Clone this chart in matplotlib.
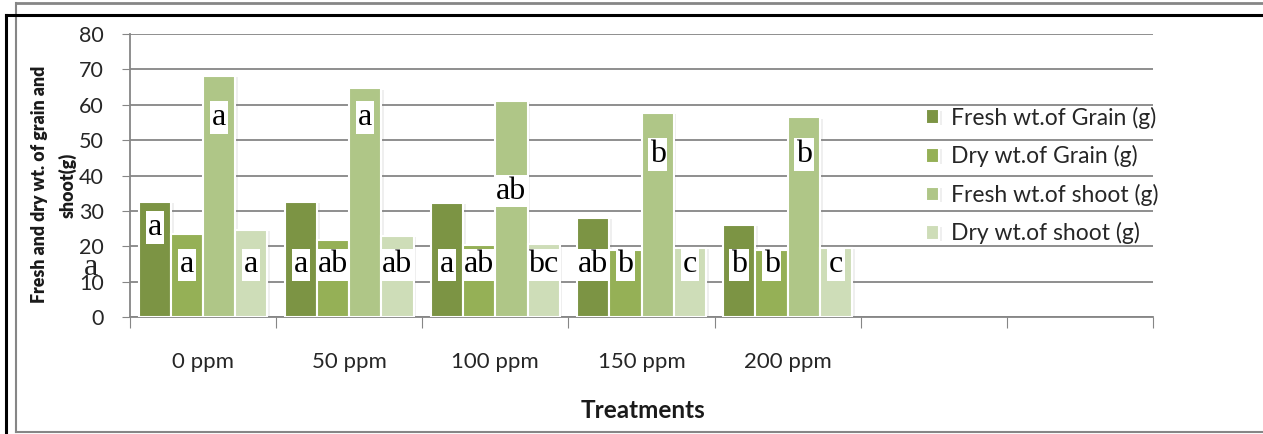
import numpy as np
import matplotlib
matplotlib.use("Agg")
import matplotlib.pyplot as plt
from matplotlib.lines import Line2D
import matplotlib.patheffects as pe

treatments = ["0 ppm", "50 ppm", "100 ppm", "150 ppm", "200 ppm", "", ""]
series = ["Fresh wt.of Grain (g)", "Dry wt.of Grain (g)",
          "Fresh wt.of shoot (g)", "Dry wt.of shoot (g)"]

fresh_grain = [32.5, 32.5, 32.2, 28.0, 26.0]
dry_grain = [23.5, 21.8, 20.3, 18.9, 18.9]
fresh_shoot = [68.1, 64.6, 61.1, 57.7, 56.5]
dry_shoot = [24.6, 22.9, 20.6, 19.6, 19.6]

# significance letters and the height where each one sits
letters_fg = ["a", "a", "a", "ab", "b"]
letters_dg = ["a", "ab", "ab", "b", "b"]
letters_fs = ["a", "a", "ab", "b", "b"]
letters_ds = ["a", "ab", "bc", "c", "c"]
pos_fg = [25.4, 14.7, 14.7, 14.7, 14.7]
pos_dg = [14.7, 14.7, 14.7, 14.7, 14.7]
pos_fs = [56.5, 56.5, 35.6, 45.9, 45.9]
pos_ds = [14.7, 14.7, 14.7, 14.7, 14.7]

colors = ["#7C9444", "#95B056", "#AFC687", "#CEDDB8"]

plt.rcParams["font.family"] = ["Lato", "DejaVu Sans"]

fig = plt.figure(figsize=(12.63, 4.34), dpi=100)
ax = fig.add_axes([130 / 1263, 1 - 317 / 434, 1023 / 1263, 283 / 434])

x = np.arange(len(fresh_grain))
width = 0.22
offsets = [-0.33, -0.11, 0.11, 0.33]
data = [fresh_grain, dry_grain, fresh_shoot, dry_shoot]
letters = [letters_fg, letters_dg, letters_fs, letters_ds]
positions = [pos_fg, pos_dg, pos_fs, pos_ds]

handles = []
for vals, off, col, name in zip(data, offsets, colors, series):
    b = ax.bar(x + off, vals, width, color=col, edgecolor="white", linewidth=1.5,
               label=name, zorder=3)
    for p in b.patches:
        p.set_path_effects([pe.SimplePatchShadow(offset=(2, -1), alpha=0.12,
                                                 shadow_rgbFace="#808080"),
                            pe.Normal()])
    handles.append(b)

for lets, ys, off in zip(letters, positions, offsets):
    for xi, (t, y) in enumerate(zip(lets, ys)):
        ax.text(xi + off, y, t, ha="center", va="center", fontsize=23,
                family="Liberation Serif", color="black", zorder=5,
                bbox=dict(boxstyle="square,pad=0.06", fc="white", ec="none"))

# stray label sitting over the y tick labels
ax.text(-0.77, 14.1, "a", ha="center", va="center", fontsize=23,
        family="Liberation Serif", color="#222222", clip_on=False, zorder=5)

ax.set_xlim(-0.5, len(treatments) - 0.5)
ax.set_ylim(0, 80)
ax.set_yticks(range(0, 81, 10))
ax.yaxis.grid(True, color="#868686", linewidth=1.3, zorder=0)
ax.set_axisbelow(True)

ax.set_xticks(np.arange(len(treatments) + 1) - 0.5)
ax.set_xticklabels([])
ax.set_xticks(np.arange(len(treatments)), minor=True)
ax.set_xticklabels(treatments, minor=True, fontsize=16, color="#262626")
ax.tick_params(axis="x", which="major", length=8, color="#868686", direction="out")
ax.tick_params(axis="x", which="minor", length=0, pad=25)
ax.tick_params(axis="y", length=6, color="#868686", labelsize=15.5,
               labelcolor="#262626", pad=13)

for s in ["top", "right"]:
    ax.spines[s].set_visible(False)
for s in ["left", "bottom"]:
    ax.spines[s].set_color("#868686")
    ax.spines[s].set_linewidth(1.3)

fig.text(643 / 1263, 1 - 411 / 434, "Treatments", ha="center", va="center",
         fontsize=17.5, fontweight="bold", color="#1a1a1a")
fig.text(40 / 1263, 1 - 184 / 434, "Fresh and dry wt. of grain and", rotation=90,
         ha="center", va="center", fontsize=12.8, fontweight="heavy", color="#1a1a1a")
fig.text(68 / 1263, 1 - 185 / 434, "shoot(g)", rotation=90,
         ha="center", va="center", fontsize=12.8, fontweight="heavy", color="#1a1a1a")

fig.legend(handles=handles, loc="upper left",
           bbox_to_anchor=(905 / 1263, 1 - 86 / 434), frameon=False,
           fontsize=16.5, handlelength=0.6, handleheight=0.6, handletextpad=0.5,
           labelspacing=0.72, labelcolor="#262626")

# chart frame lines
W, H = 1263, 434
frame = [
    ((16, W), (3, 3), "#868686", 2),
    ((16, 16), (3, 432), "#868686", 1.5),
    ((16, W), (432, 432), "#868686", 1.5),
    ((6, W), (15, 15), "black", 2.2),
    ((6, 6), (15, H), "black", 2.2),
]
for xs, ys, c, lw in frame:
    fig.add_artist(Line2D([v / W for v in xs], [1 - v / H for v in ys],
                          color=c, linewidth=lw, transform=fig.transFigure))

fig.savefig("out.png", dpi=100, facecolor="white")
